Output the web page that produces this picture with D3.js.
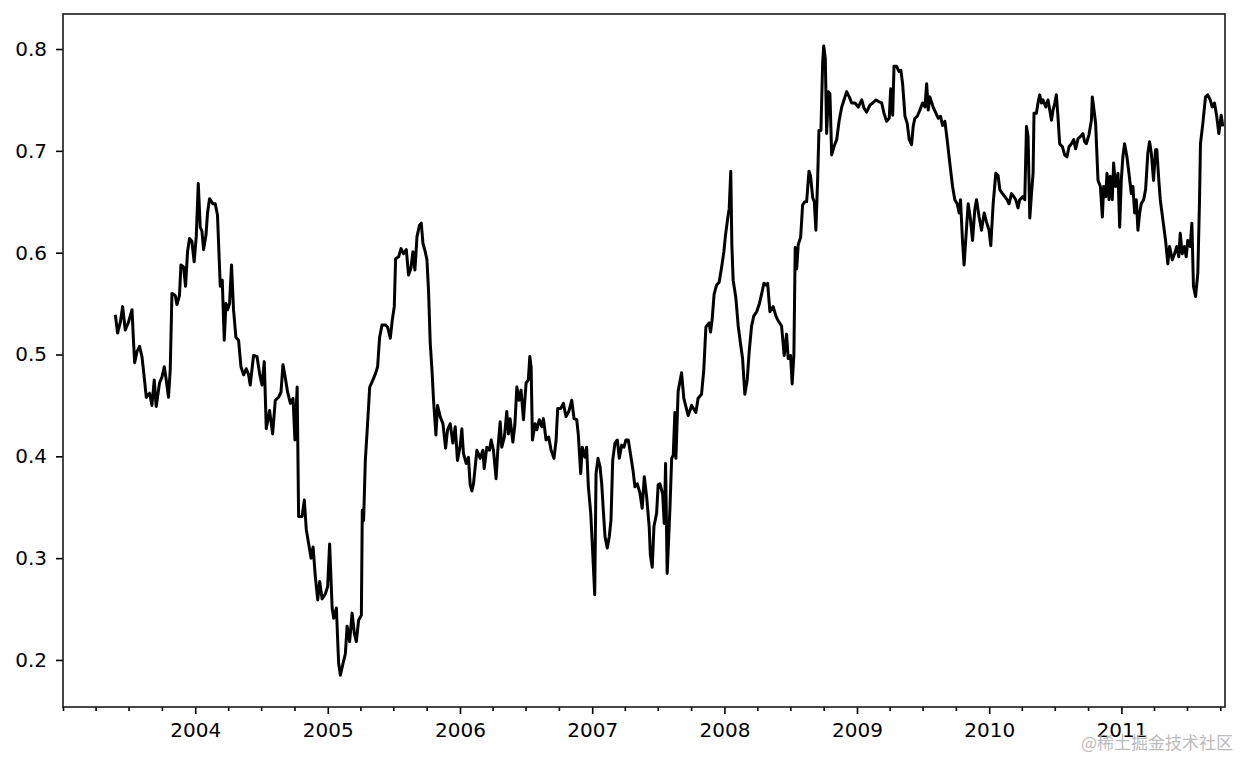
<!DOCTYPE html>
<html>
<head>
<meta charset="utf-8">
<script src="https://cdn.jsdelivr.net/npm/d3@7"></script>
<style>
  html, body { margin: 0; padding: 0; background: #fff; }
  svg { display: block; }
  text { font-family: "DejaVu Sans", sans-serif; }
</style>
</head>
<body>
<svg id="chart" width="1240" height="757"></svg>
<script>
// ---- Data ----
// Decimal-year positions of the readings
const years = [
  2003.396,2003.413,2003.434,2003.451,2003.471,2003.496,2003.522,2003.534,2003.542,2003.560,
  2003.579,2003.597,2003.610,2003.630,2003.655,2003.673,2003.690,2003.705,2003.730,2003.749,
  2003.766,2003.781,2003.798,2003.811,2003.824,2003.849,2003.862,2003.881,2003.892,2003.912,
  2003.927,2003.942,2003.957,2003.975,2003.992,2004.008,2004.023,2004.038,2004.051,2004.063,
  2004.081,2004.093,2004.108,2004.134,2004.151,2004.168,2004.189,2004.204,2004.219,2004.232,
  2004.244,2004.259,2004.274,2004.289,2004.307,2004.327,2004.345,2004.365,2004.385,2004.403,
  2004.415,2004.440,2004.466,2004.486,2004.504,2004.521,2004.536,2004.561,2004.584,2004.604,
  2004.629,2004.647,2004.662,2004.680,2004.697,2004.718,2004.738,2004.752,2004.769,2004.780,
  2004.806,2004.823,2004.838,2004.856,2004.874,2004.889,2004.906,2004.924,2004.939,2004.957,
  2004.982,2004.999,2005.014,2005.033,2005.045,2005.065,2005.082,2005.095,2005.116,2005.133,
  2005.146,2005.165,2005.184,2005.201,2005.216,2005.233,2005.254,2005.261,2005.271,2005.284,
  2005.301,2005.317,2005.335,2005.360,2005.377,2005.392,2005.410,2005.435,2005.452,2005.473,
  2005.488,2005.503,2005.513,2005.536,2005.554,2005.573,2005.594,2005.611,2005.629,2005.644,
  2005.659,2005.675,2005.694,2005.707,2005.720,2005.737,2005.750,2005.762,2005.775,2005.788,
  2005.800,2005.818,2005.830,2005.850,2005.871,2005.891,2005.906,2005.926,2005.946,2005.964,
  2005.981,2006.002,2006.014,2006.026,2006.047,2006.064,2006.077,2006.090,2006.102,2006.128,
  2006.153,2006.173,2006.183,2006.203,2006.223,2006.236,2006.253,2006.273,2006.286,2006.304,
  2006.316,2006.336,2006.354,2006.366,2006.379,2006.400,2006.415,2006.430,2006.447,2006.462,
  2006.480,2006.500,2006.517,2006.528,2006.538,2006.548,2006.568,2006.581,2006.600,2006.619,
  2006.631,2006.651,2006.671,2006.689,2006.711,2006.727,2006.739,2006.762,2006.782,2006.802,
  2006.823,2006.845,2006.863,2006.883,2006.895,2006.913,2006.925,2006.946,2006.958,2006.971,
  2006.989,2007.004,2007.019,2007.029,2007.044,2007.059,2007.072,2007.084,2007.097,2007.114,
  2007.129,2007.142,2007.155,2007.172,2007.190,2007.205,2007.223,2007.240,2007.255,2007.273,
  2007.291,2007.310,2007.323,2007.341,2007.361,2007.378,2007.394,2007.412,2007.431,2007.440,
  2007.454,2007.467,2007.487,2007.499,2007.512,2007.533,2007.545,2007.555,2007.567,2007.588,
  2007.601,2007.613,2007.625,2007.633,2007.650,2007.676,2007.693,2007.726,2007.752,2007.784,
  2007.801,2007.827,2007.844,2007.860,2007.885,2007.895,2007.907,2007.922,2007.940,2007.960,
  2007.978,2007.996,2008.008,2008.024,2008.036,2008.048,2008.056,2008.066,2008.086,2008.104,
  2008.122,2008.137,2008.154,2008.172,2008.187,2008.205,2008.222,2008.243,2008.262,2008.280,
  2008.298,2008.318,2008.326,2008.343,2008.368,2008.388,2008.406,2008.431,2008.451,2008.469,
  2008.481,2008.499,2008.511,2008.524,2008.534,2008.545,2008.557,2008.575,2008.590,2008.607,
  2008.620,2008.638,2008.650,2008.666,2008.678,2008.690,2008.703,2008.713,2008.728,2008.741,
  2008.749,2008.761,2008.771,2008.785,2008.796,2008.809,2008.826,2008.847,2008.866,2008.885,
  2008.902,2008.922,2008.942,2008.960,2008.985,2009.010,2009.036,2009.053,2009.073,2009.098,
  2009.119,2009.144,2009.169,2009.187,2009.204,2009.224,2009.244,2009.255,2009.270,2009.280,
  2009.300,2009.317,2009.332,2009.345,2009.363,2009.380,2009.395,2009.413,2009.425,2009.438,
  2009.456,2009.476,2009.496,2009.514,2009.527,2009.539,2009.551,2009.576,2009.597,2009.614,
  2009.632,2009.647,2009.665,2009.682,2009.702,2009.723,2009.740,2009.758,2009.773,2009.783,
  2009.798,2009.810,2009.829,2009.841,2009.859,2009.874,2009.891,2009.904,2009.924,2009.942,
  2009.962,2009.980,2009.999,2010.012,2010.030,2010.050,2010.067,2010.080,2010.101,2010.118,
  2010.135,2010.150,2010.169,2010.186,2010.201,2010.218,2010.231,2010.252,2010.269,2010.282,
  2010.294,2010.307,2010.320,2010.332,2010.339,2010.357,2010.369,2010.382,2010.395,2010.407,
  2010.428,2010.445,2010.458,2010.471,2010.483,2010.496,2010.508,2010.520,2010.533,2010.554,
  2010.571,2010.588,2010.604,2010.622,2010.639,2010.654,2010.672,2010.690,2010.709,2010.722,
  2010.735,2010.755,2010.773,2010.780,2010.790,2010.805,2010.823,2010.841,2010.856,2010.866,
  2010.881,2010.891,2010.906,2010.916,2010.931,2010.941,2010.956,2010.974,2010.987,2010.999,
  2011.011,2011.024,2011.042,2011.057,2011.075,2011.087,2011.100,2011.113,2011.125,2011.138,
  2011.150,2011.168,2011.183,2011.200,2011.213,2011.226,2011.243,2011.258,2011.268,2011.283,
  2011.294,2011.314,2011.334,2011.351,2011.364,2011.385,2011.402,2011.419,2011.434,2011.445,
  2011.460,2011.477,2011.490,2011.502,2011.520,2011.533,2011.545,2011.561,2011.578,2011.591,
  2011.598,2011.616,2011.636,2011.653,2011.672,2011.687,2011.704,2011.721,2011.737,2011.755,
  2011.767
];

// Rolling correlation readings
const corr = [
  0.539,0.521,0.532,0.547,0.524,0.532,0.544,0.511,0.492,0.503,
  0.508,0.498,0.483,0.458,0.462,0.450,0.475,0.449,0.472,0.478,
  0.488,0.475,0.458,0.485,0.560,0.558,0.549,0.558,0.588,0.586,
  0.567,0.601,0.614,0.611,0.591,0.616,0.668,0.625,0.621,0.603,
  0.617,0.639,0.653,0.648,0.648,0.637,0.567,0.573,0.514,0.550,
  0.544,0.550,0.588,0.544,0.517,0.514,0.488,0.480,0.486,0.480,
  0.470,0.499,0.498,0.481,0.470,0.493,0.427,0.445,0.422,0.455,
  0.458,0.463,0.490,0.477,0.463,0.452,0.457,0.416,0.468,0.341,
  0.341,0.357,0.328,0.314,0.300,0.311,0.282,0.259,0.277,0.260,
  0.265,0.272,0.314,0.251,0.241,0.251,0.197,0.185,0.197,0.206,
  0.233,0.218,0.246,0.226,0.218,0.239,0.244,0.347,0.337,0.396,
  0.432,0.468,0.473,0.481,0.488,0.517,0.529,0.529,0.527,0.516,
  0.534,0.547,0.594,0.596,0.604,0.599,0.603,0.578,0.585,0.601,
  0.583,0.616,0.627,0.629,0.609,0.601,0.593,0.563,0.511,0.485,
  0.455,0.421,0.450,0.439,0.432,0.408,0.426,0.432,0.413,0.429,
  0.396,0.411,0.427,0.403,0.393,0.399,0.372,0.366,0.373,0.406,
  0.398,0.406,0.388,0.409,0.406,0.416,0.406,0.378,0.406,0.434,
  0.409,0.419,0.444,0.422,0.437,0.414,0.431,0.468,0.455,0.465,
  0.436,0.472,0.475,0.498,0.488,0.416,0.432,0.426,0.436,0.429,
  0.437,0.416,0.419,0.406,0.398,0.416,0.447,0.447,0.452,0.439,
  0.444,0.455,0.437,0.436,0.421,0.383,0.409,0.399,0.409,0.370,
  0.344,0.305,0.264,0.383,0.398,0.390,0.373,0.347,0.321,0.310,
  0.321,0.337,0.396,0.413,0.416,0.398,0.411,0.409,0.416,0.416,
  0.401,0.385,0.370,0.373,0.364,0.349,0.380,0.360,0.331,0.303,
  0.291,0.331,0.344,0.372,0.373,0.363,0.334,0.393,0.285,0.349,
  0.398,0.401,0.443,0.398,0.464,0.482,0.457,0.440,0.450,0.443,
  0.457,0.461,0.485,0.527,0.531,0.522,0.534,0.559,0.568,0.571,
  0.585,0.601,0.617,0.633,0.643,0.680,0.608,0.573,0.556,0.528,
  0.510,0.496,0.461,0.475,0.503,0.528,0.538,0.542,0.549,0.559,
  0.570,0.568,0.570,0.542,0.547,0.538,0.533,0.528,0.499,0.520,
  0.496,0.499,0.471,0.499,0.605,0.584,0.608,0.615,0.647,0.650,
  0.650,0.680,0.675,0.654,0.650,0.622,0.671,0.720,0.720,0.787,
  0.803,0.791,0.717,0.758,0.756,0.696,0.704,0.711,0.730,0.743,
  0.750,0.758,0.753,0.747,0.747,0.743,0.750,0.742,0.738,0.745,
  0.747,0.750,0.748,0.747,0.737,0.729,0.732,0.761,0.735,0.783,
  0.783,0.778,0.779,0.766,0.734,0.727,0.711,0.706,0.724,0.732,
  0.734,0.740,0.747,0.743,0.766,0.740,0.753,0.743,0.737,0.732,
  0.734,0.725,0.729,0.711,0.688,0.665,0.652,0.648,0.639,0.652,
  0.612,0.588,0.625,0.648,0.632,0.612,0.642,0.652,0.635,0.622,
  0.639,0.630,0.622,0.607,0.648,0.678,0.676,0.662,0.658,0.655,
  0.652,0.648,0.658,0.655,0.652,0.644,0.652,0.655,0.652,0.724,
  0.714,0.634,0.658,0.678,0.737,0.737,0.747,0.755,0.747,0.750,
  0.743,0.750,0.740,0.730,0.740,0.747,0.755,0.734,0.707,0.704,
  0.696,0.694,0.704,0.707,0.711,0.702,0.712,0.714,0.717,0.709,
  0.707,0.716,0.730,0.753,0.743,0.727,0.671,0.665,0.635,0.665,
  0.655,0.678,0.652,0.675,0.652,0.688,0.665,0.678,0.625,0.671,
  0.694,0.707,0.694,0.678,0.658,0.665,0.639,0.652,0.622,0.639,
  0.648,0.652,0.662,0.698,0.709,0.698,0.671,0.701,0.701,0.671,
  0.652,0.632,0.612,0.589,0.606,0.593,0.599,0.606,0.596,0.619,
  0.599,0.606,0.596,0.612,0.606,0.629,0.567,0.557,0.580,0.652,
  0.707,0.727,0.753,0.755,0.750,0.743,0.747,0.734,0.717,0.735,
  0.724
];

const xStart = "2003-01-01";
const xEnd = "2011-10-14";
const yTicks = [0.2, 0.3, 0.4, 0.5, 0.6, 0.7, 0.8];
const yMin = 0.1538, yMax = 0.8344;
const yearLabels = ["2004","2005","2006","2007","2008","2009","2010","2011"];
const watermark = "@稀土掘金技术社区";

// ---- Helpers ----
function decYearToDate(d) {
  const y = Math.floor(d);
  const s = Date.UTC(y, 0, 1), e = Date.UTC(y + 1, 0, 1);
  return new Date(s + (d - y) * (e - s));
}
const data = years.map((y, i) => ({ date: decYearToDate(y), value: corr[i] }));

// ---- Layout ----
const W = 1240, H = 757;
const m = { left: 63, right: 1225, top: 14, bottom: 707 };
const svg = d3.select("#chart");
svg.append("rect").attr("width", W).attr("height", H).attr("fill", "#fff");

const x = d3.scaleUtc()
  .domain([new Date(xStart + "T00:00:00Z"), new Date(xEnd + "T00:00:00Z")])
  .range([m.left, m.right]);
const y = d3.scaleLinear().domain([yMin, yMax]).range([m.bottom, m.top]);

// Line
const line = d3.line().x(d => x(d.date)).y(d => y(d.value));
svg.append("path")
  .datum(data)
  .attr("d", line)
  .attr("fill", "none")
  .attr("stroke", "#000")
  .attr("stroke-width", 3)
  .attr("stroke-linejoin", "round");

// Axes
const majorDates = yearLabels.map(s => new Date(s + "-01-01T00:00:00Z"));
const minorDates = d3.utcMonth.every(3)
  .range(x.domain()[0], new Date(+x.domain()[1] + 1))
  .filter(d => !(d.getUTCMonth() === 0 && yearLabels.includes(String(d.getUTCFullYear()))));

const fontSize = 20;

const gxMinor = svg.append("g")
  .attr("transform", `translate(0,${m.bottom})`)
  .call(d3.axisBottom(x).tickValues(minorDates).tickSize(4).tickFormat(""));
const gxMajor = svg.append("g")
  .attr("transform", `translate(0,${m.bottom})`)
  .call(d3.axisBottom(x).tickValues(majorDates).tickSize(7).tickPadding(9)
    .tickFormat(d3.utcFormat("%Y")));
const gy = svg.append("g")
  .attr("transform", `translate(${m.left},0)`)
  .call(d3.axisLeft(y).tickValues(yTicks).tickSize(7).tickPadding(9)
    .tickFormat(d3.format(".1f")));

[gxMinor, gxMajor, gy].forEach(g => {
  g.select(".domain").remove();
  g.selectAll(".tick line").attr("stroke", "#000").attr("stroke-width", 1.6);
  g.selectAll(".tick text")
    .attr("fill", "#000")
    .style("font-family", "'DejaVu Sans', sans-serif")
    .style("font-size", fontSize + "px");
});

// Frame (spines)
svg.append("rect")
  .attr("x", m.left).attr("y", m.top)
  .attr("width", m.right - m.left).attr("height", m.bottom - m.top)
  .attr("fill", "none").attr("stroke", "#1a1a1a").attr("stroke-width", 1.6);

// Watermark (in the reference it also sits over the 2011 label)
svg.append("text")
  .attr("x", 1233).attr("y", 749)
  .attr("text-anchor", "end")
  .style("font-family", "'Noto Sans CJK SC', sans-serif")
  .style("font-size", "17px")
  .attr("fill", "#b4b4b4")
  .attr("opacity", 0.9)
  .text(watermark);
</script>
</body>
</html>
